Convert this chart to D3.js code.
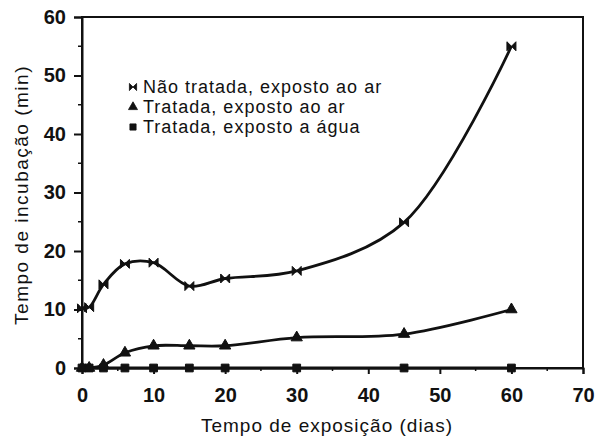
<!DOCTYPE html>
<html>
<head>
<meta charset="utf-8">
<script src="https://cdn.jsdelivr.net/npm/d3@7"></script>
<style>
  html, body { margin: 0; padding: 0; background: #fff; }
  svg { display: block; }
</style>
</head>
<body>
<svg id="chart" width="596" height="441"></svg>
<script>
// Exposure days and incubation times (min)
const days = [0, 1, 3, 6, 10, 15, 20, 30, 45, 60];
const untreatedAir = [10.2, 10.4, 14.3, 17.8, 18, 14, 15.3, 16.6, 24.9, 55];
const treatedAir = [0, 0, 0.5, 2.6, 3.8, 3.8, 3.8, 5.2, 5.8, 10];
const treatedWater = [0, 0, 0, 0, 0, 0, 0, 0, 0, 0];

const seriesNames = [
  "Não tratada, exposto ao ar",
  "Tratada, exposto ao ar",
  "Tratada, exposto a água"
];
const xTicks = [0, 10, 20, 30, 40, 50, 60, 70];
const yTicks = [0, 10, 20, 30, 40, 50, 60];
const xTitle = "Tempo de exposição (dias)";
const yTitle = "Tempo de incubação (min)";

const svg = d3.select("#chart");
const m = { left: 82, right: 13, top: 17, bottom: 73 };
const W = 596, H = 441;

const x = d3.scaleLinear().domain([0, 70]).range([m.left, W - m.right]);
const y = d3.scaleLinear().domain([0, 60]).range([H - m.bottom, m.top]);

const ink = "#111";
const font = "'Liberation Sans', Arial, sans-serif";

// frame
svg.append("rect")
  .attr("x", x(0)).attr("y", y(60))
  .attr("width", x(70) - x(0)).attr("height", y(0) - y(60))
  .attr("fill", "none").attr("stroke", ink).attr("stroke-width", 2);

// x axis
const xAxis = svg.append("g").attr("transform", `translate(0,${y(0)})`)
  .call(d3.axisBottom(x).tickValues(xTicks).tickSize(6).tickPadding(14));
xAxis.append("g").selectAll("line").data(d3.range(5, 70, 10)).join("line")
  .attr("x1", d => x(d)).attr("x2", d => x(d)).attr("y1", 0).attr("y2", 3)
  .attr("stroke", ink).attr("stroke-width", 1.5);

// y axis
const yAxis = svg.append("g").attr("transform", `translate(${x(0)},0)`)
  .call(d3.axisLeft(y).tickValues(yTicks).tickSize(8).tickPadding(8));
yAxis.append("g").selectAll("line").data(d3.range(5, 60, 10)).join("line")
  .attr("y1", d => y(d)).attr("y2", d => y(d)).attr("x1", 0).attr("x2", -4)
  .attr("stroke", ink).attr("stroke-width", 1.5);

[xAxis, yAxis].forEach(g => {
  g.select(".domain").attr("stroke", ink).attr("stroke-width", 2);
  g.selectAll(".tick line").attr("stroke", ink).attr("stroke-width", 2);
  g.selectAll(".tick text")
    .attr("fill", ink)
    .style("font-family", font)
    .style("font-weight", "bold")
    .style("font-size", "20px");
});

// axis titles
svg.append("text")
  .attr("x", 327).attr("y", 432)
  .attr("text-anchor", "middle")
  .style("font-family", font)
  .style("font-size", "19px")
  .style("letter-spacing", "1px")
  .attr("fill", ink)
  .text(xTitle);

svg.append("text")
  .attr("transform", `translate(28,195) rotate(-90)`)
  .attr("text-anchor", "middle")
  .style("font-family", font)
  .style("font-size", "19px")
  .style("letter-spacing", "1.5px")
  .attr("fill", ink)
  .text(yTitle);

// series
const line = d3.line().curve(d3.curveCatmullRom.alpha(0.5))
  .x(d => x(d[0])).y(d => y(d[1]));

const s1 = days.map((d, i) => [d, untreatedAir[i]]);
const s2 = days.map((d, i) => [d, treatedAir[i]]);
const s3 = days.map((d, i) => [d, treatedWater[i]]);

[s3, s2, s1].forEach(s => {
  svg.append("path").attr("d", line(s))
    .attr("fill", "none").attr("stroke", ink).attr("stroke-width", 2.8);
});

// markers
const bowtie = "M-4.5,-4.5L4.5,-4.5L-4.5,4.5L4.5,4.5Z";
const tri = d3.symbol().type(d3.symbolTriangle).size(55)();
const sq = d3.symbol().type(d3.symbolSquare).size(60)();

function drawMarks(data, shape, rot) {
  svg.append("g").selectAll("path").data(data).join("path")
    .attr("d", shape)
    .attr("transform", d => `translate(${x(d[0])},${y(d[1])})${rot ? " rotate(" + rot + ")" : ""}`)
    .attr("fill", ink).attr("stroke", ink).attr("stroke-width", 1);
}
drawMarks(s3, sq);
drawMarks(s2, tri);
drawMarks(s1, bowtie, 90);

// legend
const legendShapes = [[bowtie, 90], [tri, 0], [sq, 0]];
const lg = svg.append("g");
seriesNames.forEach((name, i) => {
  const base = 93 + i * 20;
  lg.append("path").attr("d", legendShapes[i][0])
    .attr("transform", `translate(133,${base - 6}) scale(0.8) rotate(${legendShapes[i][1]})`)
    .attr("fill", ink).attr("stroke", ink).attr("stroke-width", 1);
  lg.append("text")
    .attr("x", 143).attr("y", base)
    .style("font-family", font)
    .style("font-size", "18px")
    .style("letter-spacing", "1px")
    .attr("fill", ink)
    .text(name);
});
</script>
</body>
</html>
